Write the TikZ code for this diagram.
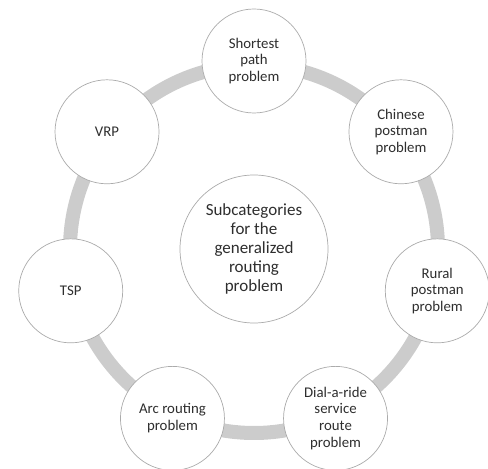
\documentclass[tikz,border=0pt]{standalone}
\usepackage{fontspec}
\setmainfont{Carlito}
\usetikzlibrary{calc}
\definecolor{ringgray}{HTML}{CCCCCC}
\definecolor{edgegray}{HTML}{ABABAB}
\definecolor{txtgray}{HTML}{2E2E2E}
\tikzset{
  outer/.style={circle, draw=edgegray, line width=0.7pt, fill=white, minimum size=104pt, inner sep=0pt, align=center, text=txtgray, font=\fontsize{14.8}{16.7}\selectfont},
  hub/.style={circle, draw=edgegray, line width=0.7pt, fill=white, minimum size=148pt, inner sep=0pt, align=center, text=txtgray, font=\fontsize{17}{19}\selectfont},
  ring/.style={draw=ringgray, line width=14pt}
}
\begin{document}
\begin{tikzpicture}[x=1pt,y=1pt]
\useasboundingbox (0,0) rectangle (488,469);
\coordinate (c) at (254,220);
\draw[ring] (c) circle (184pt);
\node[hub] (center) at (c) {Subcategories\\for the\\generalized\\routing\\problem};
\node[outer] (sp)  at ($(c)+(90:188pt)$) {Shortest\\path\\problem};
\node[outer] (cpp) at ($(c)+(38.57:188pt)$) {Chinese\\postman\\problem};
\node[outer] (rpp) at ($(c)+(-12.86:188pt)$) {Rural\\postman\\problem};
\node[outer] (dar) at ($(c)+(-64.29:188pt)$) {Dial-a-ride\\service\\route\\problem};
\node[outer] (arp) at ($(c)+(-115.71:188pt)$) {Arc routing\\problem};
\node[outer] (tsp) at ($(c)+(-167.14:188pt)$) {TSP};
\node[outer] (vrp) at ($(c)+(141.43:188pt)$) {VRP};
\end{tikzpicture}
\end{document}
